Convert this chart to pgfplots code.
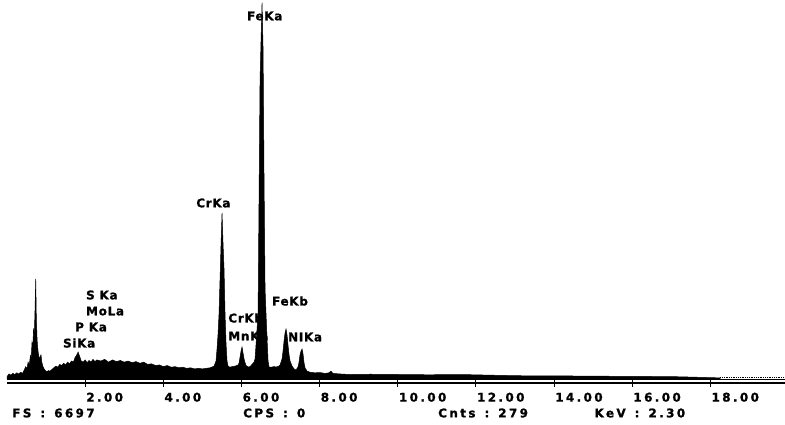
\documentclass[border=0pt]{standalone}
\usepackage{pgfplots}
\pgfplotsset{compat=1.18}
\usepackage{fontspec}
\setmainfont{DejaVu Sans}
\newfontfamily\wide{DejaVu Sans Bold}[LetterSpace=20, FakeBold=1.2]
\newfontfamily\lab{DejaVu Sans Bold}[LetterSpace=6, FakeBold=1.2]
\newcommand\sep{\hspace{9bp}:\hspace{9bp}}

\pgfplotstableread{
kev cnt
0.00 40
0.05 90
0.10 70
0.15 100
0.20 80
0.25 110
0.30 90
0.35 120
0.40 100
0.44 160
0.48 220
0.51 180
0.54 300
0.57 250
0.60 420
0.62 380
0.64 650
0.66 560
0.68 900
0.70 800
0.72 1300
0.735 1780
0.75 1100
0.77 700
0.79 520
0.81 420
0.83 350
0.85 400
0.87 430
0.89 300
0.92 220
0.95 180
0.98 150
1.02 130
1.06 150
1.10 140
1.15 170
1.20 200
1.25 230
1.30 210
1.35 260
1.40 240
1.45 280
1.50 250
1.55 300
1.60 270
1.65 320
1.70 300
1.74 380
1.78 420
1.82 480
1.86 400
1.90 320
1.95 300
2.00 340
2.05 290
2.10 330
2.15 300
2.20 350
2.25 310
2.30 340
2.40 320
2.50 350
2.60 300
2.70 340
2.80 310
2.90 330
3.00 300
3.10 320
3.20 290
3.30 310
3.40 280
3.50 300
3.60 260
3.70 270
3.80 240
3.90 250
4.00 220
4.10 240
4.20 210
4.30 220
4.40 200
4.50 210
4.60 190
4.70 200
4.80 180
4.90 190
5.00 180
5.10 190
5.20 200
5.30 230
5.349 320
5.375 534
5.401 801
5.426 1157
5.452 1780
5.478 2403
5.503 2955
5.529 2403
5.554 1960
5.580 1157
5.606 620
5.631 320
5.657 231
5.70 210
5.76 220
5.84 230
5.913 250
5.938 285
5.964 390
5.990 500
6.015 570
6.041 460
6.066 360
6.092 290
6.118 240
6.17 215
6.22 220
6.27 260
6.322 300
6.348 356
6.374 623
6.399 890
6.425 1157
6.450 3204
6.476 5340
6.502 6052
6.527 6697
6.553 5874
6.578 3560
6.604 1602
6.629 1157
6.655 712
6.681 320
6.706 214
6.76 210
6.83 220
6.90 215
6.96 230
6.988 250
7.039 356
7.065 500
7.090 680
7.116 820
7.141 890
7.167 780
7.192 600
7.218 430
7.244 320
7.295 230
7.346 180
7.397 160
7.448 214
7.474 300
7.499 430
7.525 500
7.551 534
7.576 445
7.602 285
7.628 196
7.68 140
7.76 120
7.88 110
8.01 115
8.14 100
8.24 110
8.29 140
8.34 100
8.52 90
8.78 80
9.30 85
10.06 80
10.80 75
11.60 80
12.60 65
13.40 55
14.20 55
15.20 50
16.46 45
17.20 40
17.74 30
18.25 20
}\spectrum

\begin{document}
\begin{tikzpicture}
\useasboundingbox (0,0) rectangle (785bp,425bp);
\begin{axis}[
  at={(7bp,42bp)}, anchor=south west,
  scale only axis, width=778bp, height=383bp,
  xmin=0, xmax=19.91, ymin=-71, ymax=6746,
  axis x line=bottom, axis y line=none,
  x axis line style={-, line width=1.1pt},
  xtick={2,4,...,18},
  xticklabels={2.00,4.00,6.00,8.00,10.00,12.00,14.00,16.00,18.00},
  tick align=center, major tick length=7bp,
  tick style={black, line width=0.9pt},
  xticklabel style={anchor=north west, font=\wide\fontsize{12}{12}\selectfont, inner sep=0pt, yshift=-6bp, xshift=1bp},
  clip=false,
]
\addplot[black, line width=0.5pt] coordinates {(0,0) (19.91,0)};
\addplot[fill=black, draw=black, line width=0.5pt] table[x=kev, y=cnt] {\spectrum} \closedcycle;
\addplot[black, densely dotted, line width=0.8pt] coordinates {(18.25,20) (19.91,20)};

\begin{scope}[every node/.style={anchor=west, inner sep=0pt, font=\lab\fontsize{12}{12}\selectfont}]
\node at (axis cs:6.14,6461) {FeKa};
\node at (axis cs:4.84,3133) {CrKa};
\node at (axis cs:2.02,1495) {S Ka};
\node at (axis cs:2.02,1210) {MoLa};
\node at (axis cs:1.74,926) {P Ka};
\node at (axis cs:1.43,641) {SiKa};
\node at (axis cs:6.78,1388) {FeKb};
\node at (axis cs:5.66,1086) {CrKb};
\node at (axis cs:5.66,765) {MnKa};
\node at (axis cs:7.19,748) {NIKa};
\end{scope}
\begin{scope}[every node/.style={anchor=west, inner sep=0pt, font=\wide\fontsize{12}{12}\selectfont}]
\node at (axis cs:0.13,-605) {FS\sep6697};
\node at (axis cs:6.04,-605) {CPS\sep0};
\node at (axis cs:11.03,-605) {Cnts\sep279};
\node at (axis cs:15.03,-605) {KeV\sep2.30};
\end{scope}
\end{axis}
\end{tikzpicture}
\end{document}
